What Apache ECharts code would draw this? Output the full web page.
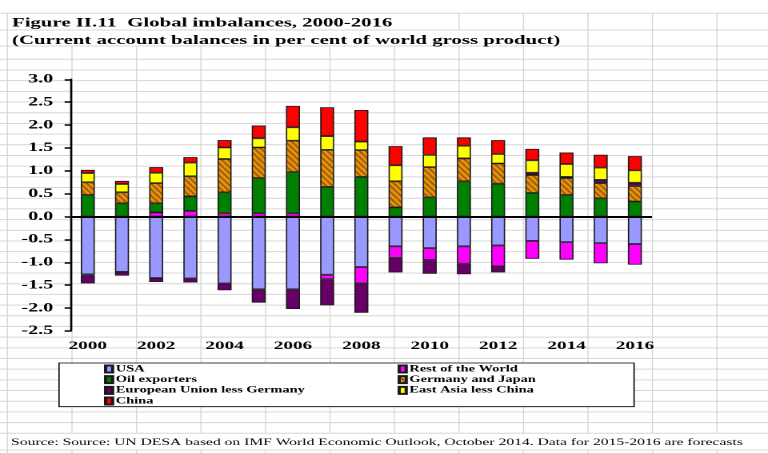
<!DOCTYPE html>
<html>
<head>
<meta charset="utf-8">
<script src="https://cdn.jsdelivr.net/npm/echarts@6/dist/echarts.min.js"></script>
<style>
html,body{margin:0;padding:0;background:#fff;overflow:hidden;width:768px;height:453px;}
#main{width:480px;height:453px;transform:scaleX(1.6);transform-origin:0 0;}
</style>
</head>
<body>
<div id="main"></div>
<script>
// ---- data (current account balances, % of world gross product) ----
const years = ['2000','2001','2002','2003','2004','2005','2006','2007','2008','2009','2010','2011','2012','2013','2014','2015','2016'];
const usa           = [-1.26,-1.21,-1.34,-1.35,-1.46,-1.59,-1.59,-1.27,-1.10,-0.65,-0.69,-0.65,-0.63,-0.53,-0.56,-0.58,-0.60];
const restOfWorld   = [-0.03,null,0.09,0.12,0.07,0.07,0.07,-0.10,-0.36,-0.25,-0.26,-0.38,-0.46,-0.39,-0.38,-0.44,-0.45];
const oilExporters  = [0.47,0.29,0.20,0.32,0.46,0.77,0.90,0.65,0.87,0.20,0.42,0.77,0.72,0.52,0.47,0.40,0.33];
const germanyJapan  = [0.28,0.24,0.44,0.44,0.73,0.67,0.69,0.81,0.58,0.57,0.66,0.50,0.44,0.39,0.37,0.33,0.34];
const euLessGermany = [-0.17,-0.08,-0.09,-0.09,-0.15,-0.29,-0.43,-0.57,-0.64,-0.32,-0.30,-0.23,-0.13,0.05,0.03,0.07,0.07];
const eastAsia      = [0.20,0.18,0.23,0.30,0.25,0.20,0.29,0.30,0.19,0.35,0.27,0.28,0.21,0.27,0.28,0.27,0.27];
const china         = [0.07,0.07,0.12,0.12,0.16,0.28,0.47,0.63,0.69,0.42,0.38,0.18,0.30,0.25,0.25,0.28,0.31];
const seriesNames = ['USA','Rest of the World','Oil exporters','Germany and Japan','European Union less Germany','East Asia less China','China'];
const yTickMin = -2.5, yTickMax = 3.0, yTickStep = 0.5;

const titleText = 'Figure II.11  Global imbalances, 2000-2016';
const subtitleText = '(Current account balances in per cent of world gross product)';
const sourceText = 'Source: Source: UN DESA based on IMF World Economic Outlook, October 2014. Data for 2015-2016 are forecasts';

// ---- layout (container is stretched horizontally by S) ----
const S = 1.6;
const serif = 'Liberation Serif, Times New Roman, serif';

// hatch pattern for Germany and Japan
function hatch() {
  const w = 4, h = 6;
  const c = document.createElement('canvas');
  c.width = w; c.height = h;
  const ctx = c.getContext('2d');
  ctx.fillStyle = '#FF9900';
  ctx.fillRect(0, 0, w, h);
  ctx.strokeStyle = '#5a4520';
  ctx.lineWidth = 1.1;
  [-w, 0, w].forEach(function (dx) {
    ctx.beginPath();
    ctx.moveTo(dx, 0);
    ctx.lineTo(dx + w, h);
    ctx.stroke();
  });
  return c;
}
const colors = ['#9999FF','#FF00FF','#008000',{image: hatch(), repeat: 'repeat'},'#660066','#FFFF00','#FF0000'];
const dataSets = [usa, restOfWorld, oilExporters, germanyJapan, euLessGermany, eastAsia, china];

// spreadsheet cell grid (decoration)
const sheet = [];
const rowLines = [13.3, 30, 46];
for (let k = 0; k <= 35; k++) rowLines.push(59.3 + k * (433.3 - 59.3) / 35);
rowLines.push(450);
rowLines.forEach(function (y) {
  sheet.push({type:'line', silent:true, z:0, shape:{x1:0, y1:y, x2:480, y2:y}, style:{stroke:'#d6d6d6', lineWidth:1}});
});
const hidden = [[13.3, 30, 430], [30, 46, 570], [433.3, 450, 745]]; // rows where text overflows: [y1, y2, x limit]
for (let k = 0; k <= 11; k++) {
  const xs = 7.5 + 64.5 * k;
  const x = xs / S;
  let segs = [[13.3, 453]];
  if (k > 0) {
    hidden.forEach(function (hr) {
      if (xs < hr[2]) {
        const out = [];
        segs.forEach(function (s) {
          if (hr[1] <= s[0] || hr[0] >= s[1]) { out.push(s); return; }
          if (s[0] < hr[0]) out.push([s[0], hr[0]]);
          if (s[1] > hr[1]) out.push([hr[1], s[1]]);
        });
        segs = out;
      }
    });
  }
  segs.forEach(function (s) {
    sheet.push({type:'line', silent:true, z:0, shape:{x1:x, y1:s[0], x2:x, y2:s[1]}, style:{stroke:'#d6d6d6', lineWidth:0.7}});
  });
}
sheet.push({type:'rect', silent:true, z:1, shape:{x:36.9, y:363, width:359.4, height:43.7}, style:{fill:'#ffffff', stroke:'#000', lineWidth:0.8}});

const chart = echarts.init(document.getElementById('main'), null, {renderer:'canvas', devicePixelRatio:2});

const series = seriesNames.map(function (name, i) {
  const s = {
    name: name,
    type: 'bar',
    stack: 'total',
    barWidth: '41%',
    data: dataSets[i],
    itemStyle: {color: colors[i], borderColor: '#1a1a1a', borderWidth: 0.8},
    emphasis: {disabled: true}
  };
  if (i === seriesNames.length - 1) {
    s.markLine = {
      silent: true, symbol: ['none','none'], label: {show:false},
      lineStyle: {color:'#000', width:2, type:'solid'},
      data: [{yAxis: 0}]
    };
  }
  return s;
});

const legendText = {fontFamily: serif, fontWeight:'bold', fontSize:9, color:'#000', lineHeight:10.7, padding:[0,0,0,-3]};
const option = {
  animation: false,
  backgroundColor: 'transparent',
  title: [
    {text: titleText, left: 7.5, top: 16.5, padding: 0, textStyle:{fontFamily: serif, fontWeight:'bold', fontSize:13, color:'#000'}},
    {text: subtitleText, left: 7.5, top: 34, padding: 0, textStyle:{fontFamily: serif, fontWeight:'bold', fontSize:13, color:'#000'}},
    {text: sourceText, left: 6.9, top: 437.5, padding: 0, textStyle:{fontFamily: serif, fontWeight:'normal', fontSize:9.75, color:'#000'}}
  ],
  legend: [
    {data: [seriesNames[0], seriesNames[2], seriesNames[4], seriesNames[6]], orient:'vertical', left: 65, top: 363.6, padding:0, itemGap:0,
     itemWidth: 4.4, itemHeight: 7, icon:'rect', selectedMode:false, textStyle: legendText},
    {data: [seriesNames[1], seriesNames[3], seriesNames[5]], orient:'vertical', left: 248.5, top: 363.6, padding:0, itemGap:0,
     itemWidth: 4.4, itemHeight: 7, icon:'rect', selectedMode:false, textStyle: legendText}
  ],
  grid: {left: 44.2, top: 79.3, width: 363.3, height: 251.7, containLabel: false},
  xAxis: {
    type: 'category',
    data: years,
    axisLine: {show: false, onZero: false},
    axisTick: {show: false},
    splitLine: {show: false},
    axisLabel: {interval: 1, margin: 9, color:'#000', fontFamily: serif, fontWeight:'bold', fontSize: 12}
  },
  yAxis: {
    type: 'value',
    min: yTickMin, max: yTickMax, interval: yTickStep,
    axisLine: {show: true, lineStyle: {color:'#000', width: 1.3}},
    axisTick: {show: true, length: 3.8, lineStyle: {color:'#000', width: 1.5}},
    splitLine: {show: false},
    axisLabel: {margin: 11, color:'#000', fontFamily: serif, fontWeight:'bold', fontSize: 12.5,
      formatter: function (v) { return v.toFixed(1); }}
  },
  graphic: {elements: sheet},
  series: series
};
chart.setOption(option);
</script>
</body>
</html>
